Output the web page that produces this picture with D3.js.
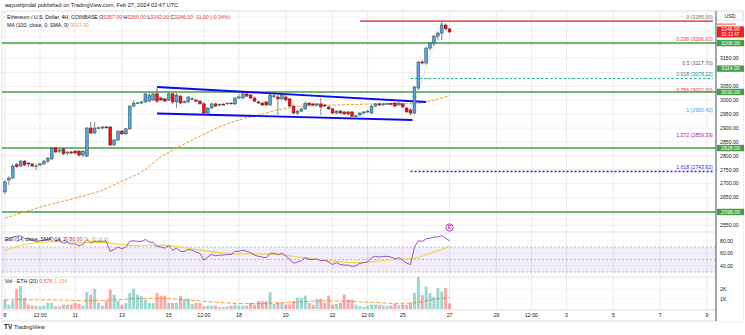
<!DOCTYPE html>
<html><head><meta charset="utf-8">
<script src="https://cdn.jsdelivr.net/npm/d3@7"></script>
<style>
html,body{margin:0;padding:0;background:#fff;}
svg{display:block;font-family:"Liberation Sans",Arial,sans-serif;}
</style></head><body>
<svg id="chart" width="745" height="335"></svg>
<script>
// ---------------- DATA ----------------
const opens = [2670,2713,2720,2768,2763,2781,2774,2771,2763,2767, 2771,2781,2789,2828,2817,2825,2810,2814,2817,2817,
 2803,2799,2900,2882,2900,2900,2904,2904,2839,2857, 2889,2879,2897,2979,2990,2990,2994,2997,3001,3023,
 3008,3005,3001,3023,2994,3015,2994,2994,3005,3001, 2997,2987,2954,2972,2987,2983,2986,2988,2990,2987,
 3008,3008,3023,3019,3008,2994,2990,2994,2983,3015, 3012,3005,3012,3005,2979,2954,2961,2969,2990,2987,
 2983,2987,2983,2976,2969,2954,2961,2958,2958,2958, 2943,2947,2954,2958,2954,2979,2987,2983,2987,2988,
 2990,2983,2987,2972,2965,2954,3044,3138,3134,3188, 3206,3231,3242,3271,3257];
const highs = [2713,2727,2771,2774,2785,2785,2778,2774,2771,2774, 2785,2796,2832,2832,2825,2828,2814,2817,2821,2821,
 2821,2904,2922,2922,2904,2906,2908,2907,2861,2892, 2893,2900,2983,3001,2994,2997,3025,3027,3027,3044,
 3012,3008,3027,3026,3026,3019,2999,3015,3010,3005, 3001,2994,2976,2990,2991,2988,2990,2992,2993,3010,
 3023,3026,3027,3022,3012,2999,2994,2997,3022,3022, 3019,3022,3019,3008,2983,2965,2972,2994,2994,2990,
 2990,3008,2987,2979,2972,2965,2965,2962,2961,2961, 2947,2958,2961,2965,2983,2990,2991,2990,2991,2992,
 2994,3001,2990,2976,2972,3051,3140,3145,3192,3210, 3235,3246,3285,3276,3260];
const lows = [2663,2695,2717,2756,2760,2763,2760,2760,2749,2763, 2767,2774,2785,2810,2810,2803,2803,2806,2806,2796,
 2796,2796,2879,2879,2896,2897,2898,2835,2835,2853, 2875,2875,2893,2976,2986,2986,2990,2994,2997,2990,
 2998,2994,2997,2987,2972,2987,2989,2990,3001,2994, 2985,2951,2943,2969,2976,2979,2982,2984,2986,2983,
 3005,3004,3012,3005,2994,2987,2980,2980,2979,3008, 2947,3001,2997,2976,2950,2947,2958,2965,2980,2979,
 2979,2947,2976,2965,2951,2951,2950,2947,2945,2940, 2939,2943,2950,2954,2951,2976,2979,2980,2983,2984,
 2976,2979,2972,2955,2947,2950,3037,3128,3128,3178, 3196,3217,3217,3253,3242];
const closes = [2706,2720,2763,2761,2781,2767,2771,2763,2764,2771, 2781,2792,2828,2814,2821,2807,2814,2810,2810,2803,
 2817,2900,2882,2900,2901,2904,2902,2839,2857,2889, 2879,2897,2979,2990,2991,2994,3023,3019,3023,2997,
 3001,2997,3023,2994,3019,2990,2995,3012,3006,2997, 2987,2954,2972,2987,2979,2986,2985,2990,2989,3008,
 3012,3023,3015,3008,2997,2990,2983,2983,3019,3016, 3005,3019,3001,2979,2954,2961,2969,2990,2983,2983,
 2987,2976,2980,2969,2954,2961,2954,2951,2951,2943, 2944,2954,2958,2961,2979,2987,2983,2987,2988,2986,
 2979,2990,2976,2958,2954,3048,3138,3134,3188,3206, 3231,3242,3271,3257,3246];
const volumes = [0.93,0.43,0.77,2.0,2.27,1.1,0.43,0.33,0.33,0.27, 0.33,0.6,0.6,0.27,0.27,0.43,0.43,0.43,0.6,0.5,
 0.33,1.67,1.43,2.0,0.6,0.33,0.83,1.93,1.43,0.83, 0.43,0.6,1.6,2.0,1.43,1.27,0.93,0.6,0.6,1.6,
 1.33,1.33,0.6,0.6,0.6,1.27,0.93,1.0,0.5,0.6, 0.6,0.27,0.33,0.33,0.33,0.2,0.2,0.27,0.33,0.43,
 0.33,0.33,0.33,0.6,0.43,0.77,0.77,0.77,1.67,0.5, 0.67,0.6,0.43,0.43,0.77,1.1,1.1,1.33,0.6,0.43,
 1.0,1.0,0.6,1.33,0.43,0.5,0.6,1.43,0.93,0.93, 0.43,0.27,0.2,0.33,0.43,0.43,0.4,0.35,0.3,0.35,
 0.5,0.4,0.45,0.4,0.6,1.6,3.17,1.4,2.23,1.57, 1.2,2.07,1.73,2.07,0.57];
const rsi = [80,82,86,87,88,84,83,81,79,80, 81,82,86,80,80,76,77,75,75,72, 74,82,77,79,79,79,79,63,66,70,
 67,70,79,80,79,79,82,78,77,71, 70,68,72,65,68,63,63,66,65,62, 60,49,54,58,56,57,57,58,58,63,
 63,65,63,61,57,55,54,53,60,60, 58,60,56,50,44,46,48,53,50,50, 51,48,49,46,42,45,42,41,41,39,
 40,44,45,46,53,55,54,55,55,54, 51,53,49,44,42,70,80,79,83,84, 86,86,88,84,80];
// sparse indicator readings (every 5th candle + last)
const sparseIdx = [0,5,10,15,20,25,30,35,40,45,50,55,60,65,70,75,80,85,90,95,100,105,110,114];
const smaVals   = [2576,2598,2619,2637,2655,2677,2709,2742,2796,2835,2871,2904,2929,2947,2965,2976,2981,2983,2985,2987,2987,2988,3001,3017];
const rsiMaVals = [64,74,78,79,77,77,74,72,73,70,65,61,59,59,58,54,50,47,45,47,50,52,62,71];
const volMaVals = [0.9,0.92,0.9,0.88,0.82,0.85,0.95,1.05,1.05,0.95,0.8,0.65,0.55,0.55,0.6,0.7,0.78,0.8,0.72,0.65,0.55,0.62,0.95,1.15];

const xTickIdx    = [0,9,18,30,42,51,60,72,84,93,102,114,126,135,144,156,168,180];
const xTickLabels = ["8","12:00","11","13","15","12:00","18","20","22","12:00","25","27","29","12:00","3","5","7","9"];
const priceTicks  = [2550,2600,2650,2700,2750,2800,2850,2900,2950,3000,3050,3100,3150,3200,3250,3300];
const greenLines  = [3206,3030,2828,2598];
const greenAxisOnly = [3114];
const fibHigh = 3285.0, fibLow = 2950.4;
const fibLevels = [0,0.236,0.5,0.618,0.786,1,1.272,1.618];
const fibColors = ["#787b86","#f23645","#5d606b","#089981","#f23645","#42a5f5","#9c27b0","#2a2ae0"];
const channelUpper = [[39,3047.8],[108,2993.8]];
const channelLower = [[39,2952.4],[104.5,2929]];
const rsiTicks = [80,60,40];
const volTicks = [1,2];

// ---------------- LAYOUT ----------------
const svg = d3.select('#chart');
svg.append('rect').attr('width',745).attr('height',335).attr('fill','#fff');
const plotL=2, plotR=716, mainTop=11, mainBot=232, rsiBot=277, volBot=310, frameBot=321;
const x  = d3.scaleLinear().domain([-0.5,182.5]).range([3,716.7]);
const y  = d3.scaleLinear().domain([2525.8,3321.4]).range([mainBot,mainTop]);
const yR = d3.scaleLinear().domain([30,70]).range([272,247]);
const yV = d3.scaleLinear().domain([0,1]).range([309,298.9]);
const fs = 5.2;

svg.append('text').attr('x',5).attr('y',7).attr('font-size',5.6).attr('fill','#131722')
  .text('aayushjindal published on TradingView.com, Feb 27, 2024 02:47 UTC');

// frame
svg.append('rect').attr('x',plotL).attr('y',mainTop).attr('width',741).attr('height',frameBot-mainTop)
  .attr('fill','none').attr('stroke','#d6d6d6').attr('stroke-width',0.8);

// grid
const grid = svg.append('g');
xTickIdx.forEach(i=>{
  grid.append('line').attr('x1',x(i)).attr('x2',x(i)).attr('y1',mainTop).attr('y2',volBot)
    .attr('stroke','#e6e6e6').attr('stroke-width',0.8);
});
priceTicks.forEach(p=>{
  grid.append('line').attr('x1',plotL).attr('x2',plotR).attr('y1',y(p)).attr('y2',y(p))
    .attr('stroke','#ececec').attr('stroke-width',0.8);
});
rsiTicks.forEach(r=>grid.append('line').attr('x1',plotL).attr('x2',plotR).attr('y1',yR(r)).attr('y2',yR(r)).attr('stroke','#f0f0f0').attr('stroke-width',0.6));
volTicks.forEach(v=>grid.append('line').attr('x1',plotL).attr('x2',plotR).attr('y1',yV(v)).attr('y2',yV(v)).attr('stroke','#f0f0f0').attr('stroke-width',0.6));

// pane separators
[mainBot, rsiBot, volBot].forEach(yy=>{
  svg.append('line').attr('x1',plotL).attr('x2',743).attr('y1',yy).attr('y2',yy)
    .attr('stroke','#dcdcdc').attr('stroke-width',0.9);
});

// clip for main pane
svg.append('clipPath').attr('id','mainclip').append('rect')
  .attr('x',plotL).attr('y',mainTop).attr('width',plotR-plotL).attr('height',mainBot-mainTop);
const main = svg.append('g').attr('clip-path','url(#mainclip)');

// green horizontal levels
greenLines.forEach(p=>{
  main.append('line').attr('x1',plotL).attr('x2',plotR).attr('y1',y(p)).attr('y2',y(p))
    .attr('stroke','#43a047').attr('stroke-width',1.4);
});

// SMA
const idxs = d3.range(opens.length);
main.append('path').datum(sparseIdx)
  .attr('d', d3.line().x(i=>x(i)).y((i,k)=>y(smaVals[k])).curve(d3.curveMonotoneX))
  .attr('fill','none').attr('stroke','#f59a2e').attr('stroke-width',1).attr('stroke-dasharray','3,1.5');

// Fib
const fibStart = 104, fibEnd = 181.5, redStart = 91;
const fibPrice = f => fibHigh - f*(fibHigh-fibLow);
main.append('line').attr('x1',x(redStart)).attr('x2',x(fibEnd)).attr('y1',y(fibHigh)).attr('y2',y(fibHigh))
  .attr('stroke','#e31b1b').attr('stroke-width',1.2);
main.append('line').attr('x1',x(fibStart)).attr('x2',x(fibEnd)).attr('y1',y(fibPrice(0.618))).attr('y2',y(fibPrice(0.618)))
  .attr('stroke','#1fae8c').attr('stroke-width',1).attr('stroke-dasharray','2.5,2');
main.append('line').attr('x1',x(fibStart)).attr('x2',x(fibEnd)).attr('y1',y(fibPrice(1.618))).attr('y2',y(fibPrice(1.618)))
  .attr('stroke','#2a2ae0').attr('stroke-width',1.3).attr('stroke-dasharray','2,2');
main.append('line').attr('x1',x(fibStart)).attr('x2',x(112)).attr('y1',y(fibLow)).attr('y2',y(fibHigh))
  .attr('stroke','#a0a0a0').attr('stroke-width',0.7).attr('stroke-dasharray','1,1.5');
fibLevels.forEach((f,k)=>{
  main.append('text').attr('x',x(fibEnd)).attr('y',y(fibPrice(f))-2.5)
    .attr('text-anchor','end').attr('font-size',fs).attr('fill',fibColors[k])
    .text(`${f} (${fibPrice(f).toFixed(2)})`);
});

// channel
[channelUpper, channelLower].forEach(c=>{
  main.append('line').attr('x1',x(c[0][0])).attr('y1',y(c[0][1])).attr('x2',x(c[1][0])).attr('y2',y(c[1][1]))
    .attr('stroke','#0a0af0').attr('stroke-width',1.8);
});

// candles
const cg = main.append('g');
idxs.forEach(i=>{
  const up = closes[i] >= opens[i];
  cg.append('line').attr('x1',x(i)).attr('x2',x(i)).attr('y1',y(highs[i])).attr('y2',y(lows[i]))
    .attr('stroke','#555').attr('stroke-width',0.7);
  const top = y(Math.max(opens[i],closes[i])), bot = y(Math.min(opens[i],closes[i]));
  cg.append('rect').attr('x',x(i)-1.4).attr('width',2.8).attr('y',top).attr('height',Math.max(0.9,bot-top))
    .attr('fill', up ? '#5d9ce8' : '#e8161c')
    .attr('stroke', up ? '#1f5a34' : '#7a0c0c').attr('stroke-width',0.5);
});

// event marker
const mk = svg.append('g').attr('transform',`translate(${x(114)},${mainBot-4.5})`);
mk.append('circle').attr('r',3.6).attr('fill','#fff').attr('stroke','#9c27b0').attr('stroke-width',0.9);
mk.append('text').attr('y',1.8).attr('text-anchor','middle').attr('font-size',5).attr('font-weight','bold').attr('fill','#9c27b0').text('E');

// legend header
const l1 = svg.append('text').attr('x',7).attr('y',19).attr('font-size',fs).attr('fill','#131722');
const last = closes.length-1, chg = closes[last]-closes[last-1];
l1.append('tspan').text('Ethereum / U.S. Dollar, 4H, COINBASE  ');
[['O',opens[last]],['H',highs[last]],['L',lows[last]],['C',closes[last]]].forEach(([k,v])=>{
  l1.append('tspan').text(k); l1.append('tspan').attr('fill','#f23645').text(v.toFixed(2)+' ');
});
l1.append('tspan').attr('fill','#f23645').text(` ${chg.toFixed(2)} (${(chg/closes[last-1]*100).toFixed(2)}%)`);
const l2 = svg.append('text').attr('x',7).attr('y',26.5).attr('font-size',fs).attr('fill','#131722');
l2.append('tspan').text('MA (100, close, 0, SMA, 9) ');
l2.append('tspan').attr('fill','#f59a2e').text(smaVals[smaVals.length-1].toFixed(2));

// RSI pane
svg.append('rect').attr('x',plotL).attr('width',plotR-plotL).attr('y',yR(70)).attr('height',yR(30)-yR(70))
  .attr('fill','#7e57c2').attr('fill-opacity',0.1);
[70,50,30].forEach(r=>svg.append('line').attr('x1',plotL).attr('x2',plotR).attr('y1',yR(r)).attr('y2',yR(r))
  .attr('stroke','#9598a1').attr('stroke-width',0.6).attr('stroke-dasharray','2,2'));
svg.append('path').datum(sparseIdx)
  .attr('d', d3.line().x(i=>x(i)).y((i,k)=>yR(rsiMaVals[k])).curve(d3.curveMonotoneX))
  .attr('fill','none').attr('stroke','#f5d33a').attr('stroke-width',1.1);
svg.append('path').datum(idxs)
  .attr('d', d3.line().x(i=>x(i)).y(i=>yR(rsi[i])))
  .attr('fill','none').attr('stroke','#8e44b8').attr('stroke-width',0.9);
const lr = svg.append('text').attr('x',5).attr('y',241).attr('font-size',fs).attr('fill','#131722');
lr.append('tspan').text('RSI (14, close, SMA, 14, 2) ');
lr.append('tspan').attr('fill','#8e44b8').text(rsi[last].toFixed(2)+' ');
lr.append('tspan').attr('fill','#e0b800').text(rsiMaVals[rsiMaVals.length-1].toFixed(2)+' ');
lr.append('tspan').attr('fill','#787b86').text('∅ ∅');

// Volume pane
svg.append('path').datum(sparseIdx)
  .attr('d', d3.line().x(i=>x(i)).y((i,k)=>yV(volMaVals[k])).curve(d3.curveMonotoneX))
  .attr('fill','none').attr('stroke','#ff9a3c').attr('stroke-width',1).attr('stroke-dasharray','4,2');
idxs.forEach(i=>{
  const up = closes[i] >= opens[i];
  svg.append('rect').attr('x',x(i)-1.5).attr('width',3).attr('y',yV(volumes[i])).attr('height',yV(0)-yV(volumes[i]))
    .attr('fill', up ? '#26a69a' : '#ef5350').attr('fill-opacity', up?0.45:0.5);
});
const lv = svg.append('text').attr('x',5).attr('y',283).attr('font-size',fs).attr('fill','#131722');
lv.append('tspan').text('Vol · ETH (20) ');
lv.append('tspan').attr('fill','#ef5350').text(volumes[last].toFixed(2)+'K ');
lv.append('tspan').attr('fill','#ff9a3c').text(volMaVals[volMaVals.length-1].toFixed(2)+'K');

// x labels
xTickIdx.forEach((i,k)=>{
  svg.append('text').attr('x',x(i)).attr('y',317).attr('text-anchor','middle').attr('font-size',fs)
    .attr('fill','#131722').text(xTickLabels[k]);
});

// right axis
svg.append('rect').attr('x',plotR).attr('y',mainTop).attr('width',745-plotR-2).attr('height',frameBot-mainTop).attr('fill','#fff');
svg.append('line').attr('x1',plotR).attr('x2',plotR).attr('y1',mainTop).attr('y2',frameBot).attr('stroke','#4a4d57').attr('stroke-width',1);
const colored = greenLines.concat(greenAxisOnly).map(p=>y(p)).concat([y(closes[last]), 15.5]);
priceTicks.forEach(p=>{
  const yy = y(p);
  if (colored.some(c=>Math.abs(c-yy)<4)) return;
  svg.append('text').attr('x',720).attr('y',yy+1.8).attr('font-size',fs).attr('fill','#131722').text(p.toFixed(2));
});
greenLines.concat(greenAxisOnly).forEach(p=>{
  svg.append('rect').attr('x',plotR+1).attr('y',y(p)-3.2).attr('width',27).attr('height',6.4).attr('fill','#43a047');
  svg.append('text').attr('x',plotR+14.5).attr('y',y(p)+1.8).attr('text-anchor','middle').attr('font-size',fs)
    .attr('fill','#fff').text(p.toFixed(2));
});
const ly = y(closes[last]);
svg.append('rect').attr('x',plotR+1).attr('y',ly-5.5).attr('width',27).attr('height',11).attr('fill','#f01e1e');
svg.append('text').attr('x',plotR+14.5).attr('y',ly-0.5).attr('text-anchor','middle').attr('font-size',fs).attr('fill','#fff').text(closes[last].toFixed(2));
svg.append('text').attr('x',plotR+14.5).attr('y',ly+4.5).attr('text-anchor','middle').attr('font-size',4.6).attr('fill','#fff').text('01:12:47');
svg.append('rect').attr('x',plotR+1).attr('y',mainTop+1).attr('width',26).attr('height',8).attr('fill','#fff').attr('stroke','#d1d4dc').attr('stroke-width',0.6);
svg.append('text').attr('x',plotR+14).attr('y',mainTop+6.8).attr('text-anchor','middle').attr('font-size',fs).attr('fill','#131722').text('USD');
svg.append('line').attr('x1',plotR+1).attr('x2',plotR+20).attr('y1',y(fibHigh)+3).attr('y2',y(fibHigh)+3).attr('stroke','#e31b1b').attr('stroke-width',0.8);
rsiTicks.forEach(r=>svg.append('text').attr('x',720).attr('y',yR(r)+1.8).attr('font-size',fs).attr('fill','#131722').text(r.toFixed(2)));
volTicks.forEach(v=>svg.append('text').attr('x',720).attr('y',yV(v)+1.8).attr('font-size',fs).attr('fill','#131722').text(v+'K'));

// footer logo
const lg = svg.append('text').attr('x',4).attr('y',329).attr('font-size',5.6).attr('fill','#131722');
lg.append('tspan').attr('font-weight','bold').attr('font-size',6.4).text('TV ');
lg.append('tspan').text('TradingView');
</script></body></html>
